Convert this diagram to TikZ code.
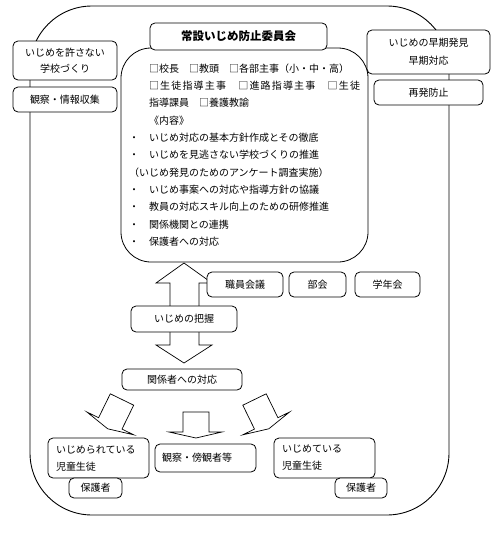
\documentclass[tikz,border=0pt]{standalone}
\usepackage{fontspec}
\setmainfont{Noto Sans CJK JP}
\begin{document}
\begin{tikzpicture}[x=1pt,y=-1pt,
  box/.style={draw=black, line width=0.8pt, fill=white, rounded corners=5pt, inner sep=0pt, font=\fontsize{10}{12}\selectfont},
  frame/.style={draw=black, line width=0.9pt, rounded corners=62pt, inner sep=0pt},
  blockarrow/.style={draw=black, line width=0.7pt, fill=white, line join=miter},
  lbox/.style={box, align=left, inner xsep=8pt, inner ysep=0pt, font=\fontsize{10}{17}\selectfont},
]
\useasboundingbox (0,0) rectangle (497,533);
% outer frame
\node[frame, minimum width=419pt, minimum height=509pt] (outer) at (239.5,260.5) {};
% inner committee box
\node[box, rounded corners=30pt, minimum width=247pt, minimum height=214pt, text width=231pt, align=left, font=\fontsize{10}{17.3}\selectfont] (inner) at (244.5,155) {%
\hspace*{2em}□校長　□教頭　□各部主事（小・中・高）\\
\hspace*{2em}\makebox[211pt][l]{□\hfill 生\hfill 徒\hfill 指\hfill 導\hfill 主\hfill 事\hfill 　\hfill □\hfill 進\hfill 路\hfill 指\hfill 導\hfill 主\hfill 事\hfill 　\hfill □\hfill 生\hfill 徒}\\
\hspace*{2em}指導課員　□養護教諭\\
\hspace*{2em}《内容》\\
・　いじめ対応の基本方針作成とその徹底\\
・　いじめを見逃さない学校づくりの推進\\
（いじめ発見のためのアンケート調査実施）\\
・　いじめ事案への対応や指導方針の協議\\
・　教員の対応スキル向上のための研修推進\\
・　関係機関との連携\\
・　保護者への対応};
% title
\node[box, minimum width=177pt, minimum height=27pt, font=\fontsize{11.5}{14}\selectfont\bfseries] (title) at (238.5,36.5) {常設いじめ防止委員会};
% left boxes
\node[box, minimum width=104pt, minimum height=39pt, align=center, font=\fontsize{10}{16}\selectfont] (L1) at (65,60.5) {いじめを許さない\\学校づくり};
\node[box, minimum width=104pt, minimum height=25pt] (L2) at (65,99.5) {観察・情報収集};
% right boxes
\node[box, minimum width=123pt, minimum height=44pt, align=center, font=\fontsize{10}{18}\selectfont] (R1) at (428.5,52) {いじめの早期発見\\早期対応};
\node[box, minimum width=109pt, minimum height=25pt] (R2) at (428.5,92.5) {再発防止};
% double block arrow
\coordinate (up) at (184,263);
\coordinate (dn) at (184,363);
\draw[blockarrow] (up) -- ++(28,20) -- ++(-13,0) -- ++(0,62) -- ++(13,0) -- (dn) -- ++(-28,-18) -- ++(14,0) -- ++(0,-62) -- ++(-14,0) -- cycle;
\node[box, minimum width=106pt, minimum height=26pt] (haaku) at (184,319) {いじめの把握};
% meetings
\node[box, minimum width=76pt, minimum height=25pt] (shokuin) at (245,284.5) {職員会議};
\node[box, minimum width=57pt, minimum height=25pt] (bukai) at (317.5,284.5) {部会};
\node[box, minimum width=65pt, minimum height=25pt] (gakunen) at (387.5,284.5) {学年会};
% response
\node[box, minimum width=120pt, minimum height=21pt] (kankei) at (182,379.5) {関係者への対応};
% three block arrows
\draw[blockarrow] (110.3,393.8) -- (98.6,417.7) -- (86.9,412) -- (107.7,428.8) -- (133.7,434.8) -- (122,429.1) -- (133.7,405.2) -- cycle;
\draw[blockarrow] (183,412) -- (183,432) -- (169,432) -- (196,438) -- (222,432) -- (209,432) -- (209,412) -- cycle;
\draw[blockarrow] (266.2,393.8) -- (277.9,417.7) -- (289.6,412) -- (268.8,428.8) -- (242.8,434.8) -- (254.5,429.1) -- (242.8,405.2) -- cycle;
% bottom boxes
\node[lbox, text width=85pt, minimum height=40pt] (higai) at (98.5,458) {いじめられている\\児童生徒};
\node[box, minimum width=53pt, minimum height=20pt] (hogo1) at (95.5,488) {保護者};
\node[lbox, inner xsep=7pt, text width=87pt, minimum height=28pt] (bokan) at (205.5,458) {観察・傍観者等};
\node[lbox, text width=85pt, minimum height=40pt] (kagai) at (324.5,458) {いじめている\\児童生徒};
\node[box, minimum width=52pt, minimum height=20pt] (hogo2) at (361,488) {保護者};
\end{tikzpicture}
\end{document}
